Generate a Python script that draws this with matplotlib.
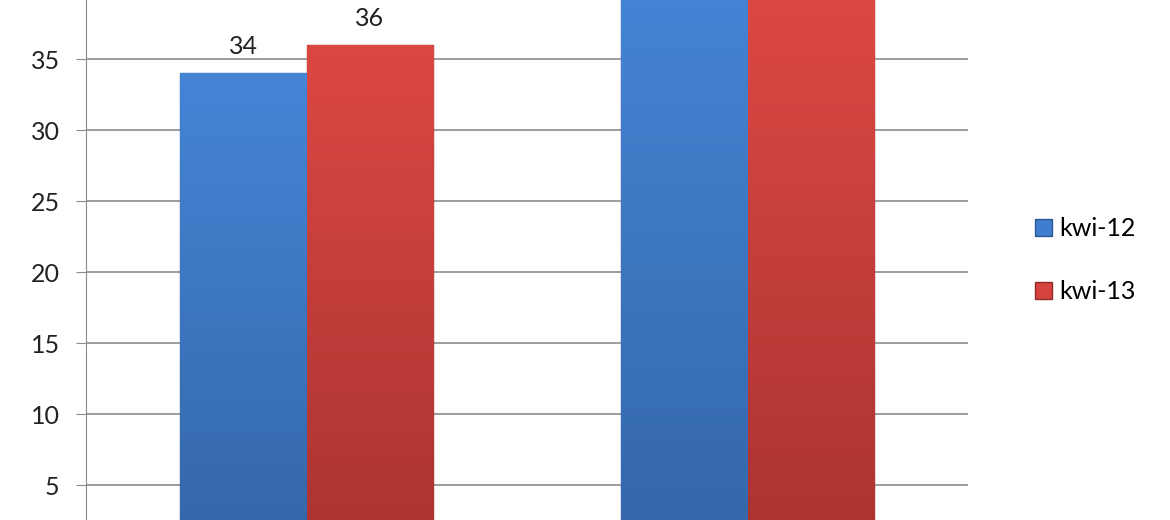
import numpy as np
import matplotlib.pyplot as plt
from matplotlib.patches import Patch

# data (second group tops are cut off, so estimated)
categories = ['1', '2']
series = ['kwi-12', 'kwi-13']
kwi12 = [34, 41]
kwi13 = [36, 39.2]
yticks = [5, 10, 15, 20, 25, 30, 35, 40, 45]

blue = '#3f7dcf'
red = '#d6433f'

plt.rcParams['font.family'] = ['Lato', 'DejaVu Sans']

fig = plt.figure(figsize=(11.7, 5.2), dpi=100)
# the reference is a crop: axes run past the top and bottom edges of the image
ax = fig.add_axes([86/1170, -36/520, 882/1170, 690/520])
ax.set_ylim(0, 48.6)
ax.set_xlim(-0.5, 1.5)

x = np.arange(len(categories))
w = 0.286
b1 = ax.bar(x - w/2, kwi12, w, color=blue, edgecolor='#2c5a96', linewidth=1.0, zorder=3)
b2 = ax.bar(x + w/2, kwi13, w, color=red, edgecolor='#8e2a28', linewidth=1.0, zorder=3)

# simple vertical shading to mimic the bevelled bars
for bars, top_c, bot_c in [(b1, '#4585d6', '#3466a8'), (b2, '#dc4844', '#a83330')]:
    for r in bars:
        x0, y0 = r.get_x(), r.get_y()
        grad = np.linspace(1, 0, 256).reshape(-1, 1)
        c1 = np.array(plt.matplotlib.colors.to_rgb(top_c))
        c2 = np.array(plt.matplotlib.colors.to_rgb(bot_c))
        img = c2 + (c1 - c2) * grad[..., None]
        im = ax.imshow(img, extent=[x0, x0 + r.get_width(), y0, y0 + r.get_height()],
                       aspect='auto', zorder=3.5, origin='upper')
        im.set_clip_path(r)

# only the first group's labels fall inside the cropped view
ax.bar_label(b1, labels=[str(kwi12[0]), ''], padding=11, fontsize=18, color='#222222')
ax.bar_label(b2, labels=[str(kwi13[0]), ''], padding=11, fontsize=18, color='#222222')

ax.set_yticks(yticks)
ax.set_yticklabels([str(t) for t in yticks], fontsize=18, color='#222222')
ax.set_xticks(x)
ax.set_xticklabels([])
ax.tick_params(axis='x', length=0)
ax.yaxis.grid(True, color='#8c8c8c', linewidth=1.2, zorder=0)
ax.set_axisbelow(True)
for s in ['top', 'right', 'bottom']:
    ax.spines[s].set_visible(False)
ax.spines['left'].set_color('#8c8c8c')
ax.tick_params(axis='y', length=7, color='#8c8c8c', pad=12)

handles = [Patch(facecolor=blue, edgecolor='#2c5a96'), Patch(facecolor=red, edgecolor='#8e2a28')]
fig.legend(handles, series, loc='center left', bbox_to_anchor=(1012/1170, 260/520),
           frameon=False, fontsize=18, handlelength=0.7, handleheight=0.7,
           handletextpad=0.3, labelspacing=1.6)

fig.savefig('out.png', dpi=100)
